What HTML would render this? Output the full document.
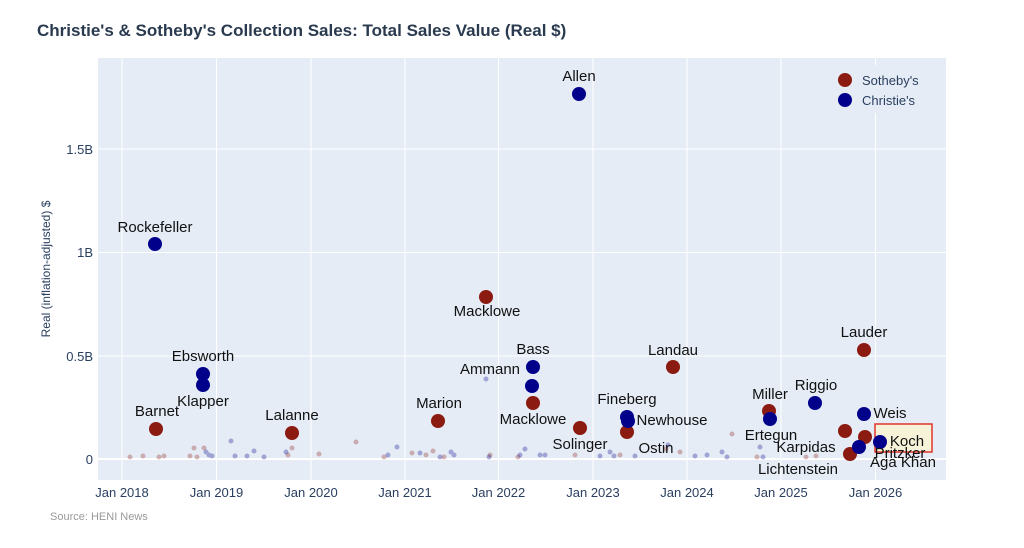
<!DOCTYPE html>
<html><head><meta charset="utf-8"><style>
body{margin:0;background:#fff;}
svg{display:block;font-family:"Liberation Sans",Arial,sans-serif;}
</style></head><body>
<svg width="1024" height="548" viewBox="0 0 1024 548" xmlns="http://www.w3.org/2000/svg">
<text x="37" y="36" font-size="17" font-weight="bold" fill="#2a3a4f">Christie's &amp; Sotheby's Collection Sales: Total Sales Value (Real $)</text>
<rect x="98" y="58" width="848" height="422" fill="#e5ecf6"/>
<g stroke="#fff" stroke-width="1">
<line x1="122" y1="58" x2="122" y2="480"/><line x1="216.5" y1="58" x2="216.5" y2="480"/>
<line x1="311" y1="58" x2="311" y2="480"/><line x1="405" y1="58" x2="405" y2="480"/>
<line x1="498.5" y1="58" x2="498.5" y2="480"/><line x1="593" y1="58" x2="593" y2="480"/>
<line x1="687" y1="58" x2="687" y2="480"/><line x1="781" y1="58" x2="781" y2="480"/>
<line x1="875.5" y1="58" x2="875.5" y2="480"/>
<line x1="98" y1="149" x2="946" y2="149"/><line x1="98" y1="252.5" x2="946" y2="252.5"/>
<line x1="98" y1="356" x2="946" y2="356"/><line x1="98" y1="459" x2="946" y2="459" stroke-width="2"/>
</g>
<g font-size="13" fill="#2a3f5f" text-anchor="end">
<text x="93" y="154">1.5B</text><text x="93" y="257">1B</text><text x="93" y="361">0.5B</text><text x="93" y="464">0</text>
</g>
<g font-size="13" fill="#2a3f5f" text-anchor="middle">
<text x="122" y="497">Jan 2018</text><text x="216.5" y="497">Jan 2019</text><text x="311" y="497">Jan 2020</text>
<text x="405" y="497">Jan 2021</text><text x="498.5" y="497">Jan 2022</text><text x="593" y="497">Jan 2023</text>
<text x="687" y="497">Jan 2024</text><text x="781" y="497">Jan 2025</text><text x="875.5" y="497">Jan 2026</text>
</g>
<text transform="translate(50,269) rotate(-90)" font-size="12" fill="#2a3f5f" text-anchor="middle">Real (inflation-adjusted) $</text>
<text x="50" y="520" font-size="11" fill="#999">Source: HENI News</text>
<g fill="#8b1a10" opacity="0.3">
<circle cx="130" cy="457" r="2.5"/><circle cx="143" cy="456" r="2.5"/><circle cx="159" cy="457" r="2.5"/><circle cx="164" cy="456" r="2.5"/>
<circle cx="190" cy="456" r="2.5"/><circle cx="194" cy="448" r="2.5"/><circle cx="197" cy="457" r="2.5"/><circle cx="204" cy="448" r="2.5"/>
<circle cx="288" cy="455" r="2.5"/><circle cx="292" cy="448" r="2.5"/><circle cx="319" cy="454" r="2.5"/><circle cx="356" cy="442" r="2.5"/>
<circle cx="384" cy="457" r="2.5"/><circle cx="412" cy="453" r="2.5"/><circle cx="426" cy="455" r="2.5"/><circle cx="433" cy="451" r="2.5"/>
<circle cx="444" cy="457" r="2.5"/><circle cx="490" cy="455" r="2.5"/><circle cx="518" cy="457" r="2.5"/><circle cx="575" cy="455" r="2.5"/>
<circle cx="620" cy="455" r="2.5"/><circle cx="666" cy="449" r="2.5"/><circle cx="680" cy="452" r="2.5"/><circle cx="732" cy="434" r="2.5"/>
<circle cx="757" cy="457" r="2.5"/><circle cx="806" cy="457" r="2.5"/><circle cx="816" cy="456" r="2.5"/>
</g>
<g fill="#00008b" opacity="0.3">
<circle cx="206" cy="452" r="2.5"/><circle cx="209" cy="455" r="2.5"/><circle cx="212" cy="456" r="2.5"/><circle cx="231" cy="441" r="2.5"/>
<circle cx="235" cy="456" r="2.5"/><circle cx="247" cy="456" r="2.5"/><circle cx="254" cy="451" r="2.5"/><circle cx="264" cy="457" r="2.5"/>
<circle cx="286" cy="452" r="2.5"/><circle cx="388" cy="455" r="2.5"/><circle cx="397" cy="447" r="2.5"/><circle cx="420" cy="453" r="2.5"/>
<circle cx="440" cy="457" r="2.5"/><circle cx="451" cy="452" r="2.5"/><circle cx="454" cy="455" r="2.5"/><circle cx="486" cy="379" r="2.5"/>
<circle cx="489" cy="457" r="2.5"/><circle cx="520" cy="455" r="2.5"/><circle cx="525" cy="449" r="2.5"/><circle cx="540" cy="455" r="2.5"/>
<circle cx="545" cy="455" r="2.5"/><circle cx="600" cy="456" r="2.5"/><circle cx="610" cy="452" r="2.5"/><circle cx="614" cy="456" r="2.5"/>
<circle cx="635" cy="456" r="2.5"/><circle cx="668" cy="445" r="2.5"/><circle cx="695" cy="456" r="2.5"/><circle cx="707" cy="455" r="2.5"/>
<circle cx="722" cy="452" r="2.5"/><circle cx="727" cy="457" r="2.5"/><circle cx="760" cy="447" r="2.5"/><circle cx="763" cy="457" r="2.5"/>
</g>
<rect x="875" y="424" width="57" height="28" fill="#f6f3d8" stroke="#e0342a" stroke-width="1.5"/>
<g fill="#8b1a10">
<circle cx="156" cy="429" r="7"/><circle cx="292" cy="433" r="7"/><circle cx="438" cy="421" r="7"/><circle cx="486" cy="297" r="7"/>
<circle cx="533" cy="403" r="7"/><circle cx="580" cy="428" r="7"/><circle cx="627" cy="432" r="7"/><circle cx="673" cy="367" r="7"/>
<circle cx="769" cy="411" r="7"/><circle cx="864" cy="350" r="7"/><circle cx="845" cy="431" r="7"/><circle cx="865" cy="437" r="7"/><circle cx="850" cy="454" r="7"/>
</g>
<g fill="#00008b">
<circle cx="155" cy="244" r="7"/><circle cx="203" cy="374" r="7"/><circle cx="203" cy="385" r="7"/><circle cx="579" cy="94" r="7"/>
<circle cx="533" cy="367" r="7"/><circle cx="532" cy="386" r="7"/><circle cx="627" cy="417" r="7"/><circle cx="628" cy="421" r="7"/>
<circle cx="770" cy="419" r="7"/><circle cx="815" cy="403" r="7"/><circle cx="864" cy="414" r="7"/><circle cx="880" cy="442" r="7"/><circle cx="859" cy="447" r="7"/>
</g>
<g font-size="15" fill="#111" text-anchor="middle">
<text x="157" y="416">Barnet</text><text x="292" y="420">Lalanne</text><text x="439" y="408">Marion</text><text x="487" y="316">Macklowe</text>
<text x="533" y="424">Macklowe</text><text x="580" y="449">Solinger</text><text x="673" y="355">Landau</text><text x="770" y="399">Miller</text>
<text x="864" y="337">Lauder</text><text x="155" y="232">Rockefeller</text><text x="203" y="361">Ebsworth</text><text x="203" y="406">Klapper</text>
<text x="579" y="81">Allen</text><text x="533" y="354">Bass</text><text x="490" y="374">Ammann</text><text x="627" y="404">Fineberg</text>
<text x="672" y="425">Newhouse</text><text x="656" y="453">Ostin</text><text x="771" y="440">Ertegun</text><text x="816" y="390">Riggio</text>
<text x="890" y="418">Weis</text><text x="907" y="446">Koch</text><text x="900" y="458">Pritzker</text><text x="903" y="467">Aga Khan</text>
<text x="806" y="452">Karpidas</text><text x="798" y="474">Lichtenstein</text>
</g>
<rect x="828" y="65" width="104" height="48" fill="#e5ecf6"/>
<circle cx="845" cy="80" r="7" fill="#8b1a10"/><text x="862" y="85" font-size="13" fill="#2a3f5f">Sotheby's</text>
<circle cx="845" cy="100" r="7" fill="#00008b"/><text x="862" y="105" font-size="13" fill="#2a3f5f">Christie's</text>
</svg>
</body></html>
